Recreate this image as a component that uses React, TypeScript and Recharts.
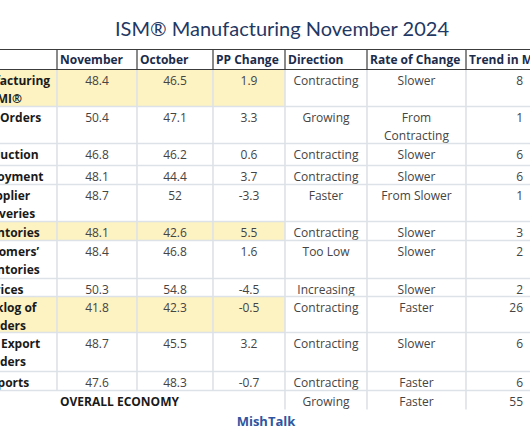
import React from 'react';
import { ComposedChart, XAxis, YAxis, ReferenceArea, ReferenceLine } from 'recharts';

// ---------- data ----------
const title = 'ISM® Manufacturing November 2024';
const sourceLabel = 'MishTalk';
const columnHeaders = ['', 'November', 'October', 'PP Change', 'Direction', 'Rate of Change', 'Trend in Months'];
const indexNames = [
  'Manufacturing\nPMI®',
  'New Orders',
  'Production',
  'Employment',
  'Supplier\nDeliveries',
  'Inventories',
  'Customers’\nInventories',
  'Prices',
  'Backlog of\nOrders',
  'New Export\nOrders',
  'Imports',
];
const novemberValues = [48.4, 50.4, 46.8, 48.1, 48.7, 48.1, 48.4, 50.3, 41.8, 48.7, 47.6];
const octoberValues = [46.5, 47.1, 46.2, 44.4, 52, 42.6, 46.8, 54.8, 42.3, 45.5, 48.3];
const ppChangeValues = [1.9, 3.3, 0.6, 3.7, -3.3, 5.5, 1.6, -4.5, -0.5, 3.2, -0.7];
const directionValues = ['Contracting', 'Growing', 'Contracting', 'Contracting', 'Faster', 'Contracting', 'Too Low', 'Increasing', 'Contracting', 'Contracting', 'Contracting'];
const rateOfChangeValues = ['Slower', 'From\nContracting', 'Slower', 'Slower', 'From Slower', 'Slower', 'Slower', 'Slower', 'Faster', 'Slower', 'Faster'];
const trendMonthValues = [8, 1, 6, 6, 1, 3, 2, 2, 26, 6, 6];
const highlightedIndexes = ['Manufacturing\nPMI®', 'Inventories', 'Backlog of\nOrders'];
const overallLabel = 'OVERALL ECONOMY';
const overallDirection = 'Growing';
const overallRate = 'Faster';
const overallTrend = 55;

// ---------- layout ----------
const W = 530;
const H = 442;
const BLEED = 60;
const COL_EDGES = [-46, 57, 137, 213, 285, 367, 466, 530];
const HEADER_TOP = 49.5;
const HEADER_H = 20;
const ROW_HEIGHTS = [37, 37, 22, 19, 37, 19, 38, 18, 36, 39, 19];
const OVERALL_H = 19;
const LINE_H = 18;
const FIRST_BASE = 15;
const FONT = "'Open Sans', 'Noto Sans', sans-serif";
const YELLOW = '#fdf2c1';
const GRID = '#dde2e8';
const DARK = '#3c3c3c';

const fmt = (v: number) => (Number.isInteger(v) ? String(v) : v.toFixed(1));

type Align = 'start' | 'middle' | 'end';
interface Cell {
  x1: number; x2: number; y1: number; y2: number;
  text: string; align: Align; bold?: boolean; color: string; size: number; baseOff?: number;
  fill?: string; family?: string;
}

const rowTops: number[] = [];
{
  let y = HEADER_TOP + HEADER_H;
  ROW_HEIGHTS.forEach((h) => { rowTops.push(y); y += h; });
}
const bodyBottom = rowTops[rowTops.length - 1] + ROW_HEIGHTS[ROW_HEIGHTS.length - 1];
const overallBottom = bodyBottom + OVERALL_H;

const cells: Cell[] = [];
// header
columnHeaders.forEach((h, c) => {
  cells.push({
    x1: COL_EDGES[c], x2: COL_EDGES[c + 1], y1: HEADER_TOP, y2: HEADER_TOP + HEADER_H,
    text: h, align: 'start', bold: true, color: '#1c2b4a', size: 12, baseOff: 14.5,
  });
});
// body
indexNames.forEach((name, r) => {
  const y1 = rowTops[r];
  const y2 = y1 + ROW_HEIGHTS[r];
  const hl = highlightedIndexes.includes(name);
  const cols: [string, Align, boolean][] = [
    [name, 'middle', true],
    [fmt(novemberValues[r]), 'middle', false],
    [fmt(octoberValues[r]), 'middle', false],
    [fmt(ppChangeValues[r]), 'middle', false],
    [directionValues[r], 'middle', false],
    [rateOfChangeValues[r], 'middle', false],
    [String(trendMonthValues[r]), 'end', false],
  ];
  cols.forEach(([t, a, b], c) => {
    cells.push({
      x1: COL_EDGES[c], x2: COL_EDGES[c + 1], y1, y2, text: t, align: a, bold: b,
      color: b ? '#1a1a1a' : '#444444', size: 12,
      fill: hl && c <= 3 ? YELLOW : undefined,
    });
  });
});
// overall economy row
cells.push({ x1: COL_EDGES[0], x2: COL_EDGES[4], y1: bodyBottom, y2: overallBottom, text: overallLabel, align: 'middle', bold: true, color: '#1a1a1a', size: 12 });
cells.push({ x1: COL_EDGES[4], x2: COL_EDGES[5], y1: bodyBottom, y2: overallBottom, text: overallDirection, align: 'middle', color: '#444444', size: 12 });
cells.push({ x1: COL_EDGES[5], x2: COL_EDGES[6], y1: bodyBottom, y2: overallBottom, text: overallRate, align: 'middle', color: '#444444', size: 12 });
cells.push({ x1: COL_EDGES[6], x2: COL_EDGES[7], y1: bodyBottom, y2: overallBottom, text: String(overallTrend), align: 'end', color: '#444444', size: 12 });
// title and source
cells.push({ x1: 0, x2: 564, y1: 0, y2: HEADER_TOP, text: title, align: 'middle', color: '#1f3864', size: 20, baseOff: 36, family: "Lato, 'Open Sans', sans-serif" });
cells.push({ x1: 0, x2: 532, y1: overallBottom, y2: H, text: sourceLabel, align: 'middle', bold: true, color: '#2f55a0', size: 13, baseOff: 16 });

const makeLabel = (cell: Cell) => (props: any) => {
  const vb = props.viewBox || {};
  const pad = cell.align === 'end' ? 7 : 3;
  const x = cell.align === 'start' ? vb.x + pad : cell.align === 'middle' ? vb.x + vb.width / 2 : vb.x + vb.width - pad;
  const lines = cell.text.split('\n');
  return (
    <text
      x={x}
      y={vb.y + (cell.baseOff ?? FIRST_BASE)}
      textAnchor={cell.align}
      fill={cell.color}
      fontSize={cell.size}
      fontWeight={cell.bold ? 700 : 400}
      fontFamily={cell.family ?? FONT}
    >
      {lines.map((l, i) => (
        <tspan key={i} x={x} dy={i === 0 ? 0 : LINE_H}>{l}</tspan>
      ))}
    </text>
  );
};

// grid segments
type Seg = { a: { x: number; y: number }; b: { x: number; y: number }; color: string; w: number };
const segs: Seg[] = [];
rowTops.slice(1).concat([bodyBottom]).forEach((y) => {
  segs.push({ a: { x: -BLEED, y }, b: { x: W, y }, color: GRID, w: 1.6 });
});
COL_EDGES.slice(1, 7).forEach((x, i) => {
  const bottom = i >= 3 ? overallBottom : bodyBottom;
  segs.push({ a: { x, y: HEADER_TOP + HEADER_H }, b: { x, y: bottom }, color: GRID, w: 1.6 });
});
[HEADER_TOP, HEADER_TOP + HEADER_H].forEach((y) => {
  segs.push({ a: { x: -BLEED, y }, b: { x: W, y }, color: DARK, w: 1.2 });
});
COL_EDGES.slice(1, 7).forEach((x) => {
  segs.push({ a: { x, y: HEADER_TOP }, b: { x, y: HEADER_TOP + HEADER_H }, color: DARK, w: 1.2 });
});

export default function App() {
  return (
    <div style={{ position: 'absolute', left: 0, top: 0, width: W, height: H, overflow: 'hidden', background: '#ffffff' }}>
      <div style={{ position: 'absolute', left: -BLEED, top: 0 }}>
        <ComposedChart width={W + BLEED} height={H} margin={{ top: 0, right: 0, bottom: 0, left: 0 }} data={[]}>
          <XAxis type="number" dataKey="x" domain={[-BLEED, W]} hide allowDataOverflow />
          <YAxis type="number" dataKey="y" domain={[0, H]} reversed hide allowDataOverflow />
          {cells.filter((c) => c.fill).map((c, i) => (
            <ReferenceArea key={`f${i}`} x1={c.x1} x2={c.x2} y1={c.y1} y2={c.y2} fill={c.fill} fillOpacity={1} stroke="none" ifOverflow="visible" />
          ))}
          {segs.map((s, i) => (
            <ReferenceLine key={`s${i}`} segment={[s.a, s.b]} stroke={s.color} strokeWidth={s.w} ifOverflow="visible" />
          ))}
          {cells.map((c, i) => (
            <ReferenceArea key={`t${i}`} x1={c.x1} x2={c.x2} y1={c.y1} y2={c.y2} fill="none" fillOpacity={0} stroke="none" ifOverflow="visible" label={makeLabel(c)} />
          ))}
        </ComposedChart>
      </div>
    </div>
  );
}
